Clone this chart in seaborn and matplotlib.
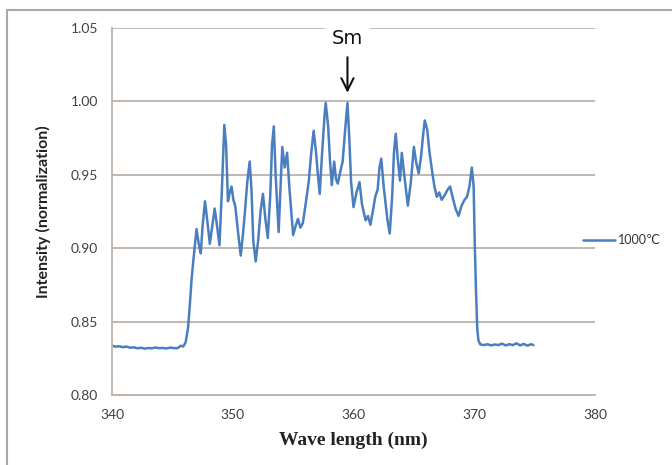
import matplotlib
matplotlib.use("Agg")
import matplotlib.pyplot as plt
import seaborn as sns
from matplotlib.lines import Line2D

# Spectrum values
wavelength_nm = [
    340.0, 340.3, 340.6, 340.9, 341.2, 341.5, 341.8, 342.1, 342.4, 342.7,
    343.0, 343.3, 343.6, 343.9, 344.2, 344.5, 344.8, 345.1, 345.4, 345.7,
    345.9, 346.1, 346.3, 346.45, 346.6, 346.8, 347.0, 347.2, 347.35, 347.5,
    347.7, 347.9, 348.1, 348.3, 348.5, 348.7, 348.9, 349.1, 349.3, 349.45,
    349.6, 349.75, 349.9, 350.05, 350.2, 350.45, 350.66, 350.85, 351.0, 351.2,
    351.4, 351.55, 351.7, 351.9, 352.1, 352.3, 352.5, 352.7, 352.9, 353.1,
    353.25, 353.4, 353.55, 353.8, 353.95, 354.1, 354.3, 354.5, 354.7, 355.0,
    355.2, 355.4, 355.6, 355.8, 356.0, 356.3, 356.5, 356.7, 356.9, 357.05,
    357.2, 357.4, 357.6, 357.7, 357.9, 358.05, 358.2, 358.4, 358.55, 358.7,
    358.9, 359.1, 359.3, 359.5, 359.65, 359.8, 360.0, 360.25, 360.5, 360.7,
    361.0, 361.2, 361.4, 361.6, 361.8, 362.0, 362.15, 362.3, 362.5, 362.8,
    363.0, 363.2, 363.35, 363.5, 363.65, 363.85, 364.0, 364.2, 364.5, 364.75,
    365.0, 365.2, 365.4, 365.6, 365.75, 365.9, 366.1, 366.3, 366.5, 366.7,
    366.9, 367.1, 367.3, 367.55, 367.8, 368.0, 368.2, 368.45, 368.7, 368.95,
    369.2, 369.4, 369.6, 369.8, 369.95, 370.05, 370.15, 370.25, 370.35, 370.5,
    370.8, 371.1, 371.4, 371.7, 372.0, 372.3, 372.6, 372.9, 373.2, 373.5,
    373.8, 374.1, 374.4, 374.7, 374.9,
]
intensity = [
    0.8335, 0.8330, 0.8332, 0.8326, 0.8330, 0.8322, 0.8325, 0.8318, 0.8322, 0.8316,
    0.8320, 0.8318, 0.8324, 0.8319, 0.8321, 0.8317, 0.8323, 0.8320, 0.8318, 0.8336,
    0.8330, 0.8360, 0.8460, 0.8620, 0.8800, 0.8970, 0.9130, 0.9020, 0.8965, 0.9150,
    0.9320, 0.9180, 0.9030, 0.9150, 0.9270, 0.9150, 0.9020, 0.9400, 0.9840, 0.9700,
    0.9320, 0.9380, 0.9420, 0.9330, 0.9290, 0.9100, 0.8950, 0.9100, 0.9240, 0.9450,
    0.9590, 0.9400, 0.9050, 0.8910, 0.9050, 0.9250, 0.9370, 0.9200, 0.9070, 0.9350,
    0.9700, 0.9830, 0.9500, 0.9110, 0.9400, 0.9690, 0.9550, 0.9650, 0.9400, 0.9090,
    0.9150, 0.9200, 0.9140, 0.9170, 0.9280, 0.9460, 0.9650, 0.9800, 0.9650, 0.9500,
    0.9370, 0.9650, 0.9900, 0.9990, 0.9830, 0.9600, 0.9430, 0.9590, 0.9470, 0.9440,
    0.9520, 0.9590, 0.9800, 0.9990, 0.9750, 0.9450, 0.9280, 0.9380, 0.9450, 0.9300,
    0.9190, 0.9220, 0.9160, 0.9250, 0.9350, 0.9400, 0.9550, 0.9610, 0.9420, 0.9200,
    0.9100, 0.9350, 0.9650, 0.9780, 0.9620, 0.9460, 0.9650, 0.9500, 0.9290, 0.9450,
    0.9690, 0.9580, 0.9510, 0.9630, 0.9760, 0.9870, 0.9810, 0.9650, 0.9530, 0.9420,
    0.9350, 0.9380, 0.9330, 0.9360, 0.9400, 0.9420, 0.9350, 0.9270, 0.9220, 0.9290,
    0.9330, 0.9350, 0.9420, 0.9550, 0.9420, 0.9000, 0.8700, 0.8450, 0.8370, 0.8345,
    0.8340, 0.8346, 0.8338, 0.8344, 0.8340, 0.8350, 0.8338, 0.8346, 0.8340, 0.8352,
    0.8338, 0.8348, 0.8336, 0.8346, 0.8340,
]

x_ticks = [340, 350, 360, 370, 380]
y_ticks = [0.80, 0.85, 0.90, 0.95, 1.00, 1.05]
series_label = "1000℃"
peak_label = "Sm"
peak_x = 359.5

sns.set_style("white")
plt.rcParams['font.family'] = ['Lato', 'DejaVu Sans']

line_color = '#4a7ebf'
grid_color = '#bcb2aa'
tick_color = '#404040'

fig = plt.figure(figsize=(6.72, 4.65), dpi=100)
ax = fig.add_axes([0.1667, 0.1505, 0.7187, 0.7893])

sns.lineplot(x=wavelength_nm, y=intensity, color=line_color, linewidth=1.8,
             ax=ax, legend=False)

ax.set_xlim(340, 380)
ax.set_ylim(0.80, 1.05)
ax.set_xticks(x_ticks)
ax.set_xticklabels([str(t) for t in x_ticks])
ax.set_yticks(y_ticks)
ax.set_yticklabels([f"{t:.2f}" for t in y_ticks])

ax.yaxis.grid(True, color=grid_color, linewidth=1.3)
ax.xaxis.grid(False)
ax.set_axisbelow(True)
for side in ['top', 'right']:
    ax.spines[side].set_visible(False)
for side in ['left', 'bottom']:
    ax.spines[side].set_color(grid_color)
    ax.spines[side].set_linewidth(1.3)
ax.tick_params(axis='both', direction='out', length=4, width=1.2,
               color=grid_color, labelsize=10, labelcolor=tick_color, pad=6)

ax.set_xlabel("Wave length (nm)", fontsize=14, fontweight='bold',
              family=['Liberation Serif', 'DejaVu Serif'], color='#222222', labelpad=8)
ax.set_ylabel("Intensity (normalization)", fontsize=11.5, fontweight='bold',
              color='#222222', labelpad=14)

# Peak annotation
ax.text(peak_x, 1.043, peak_label, ha='center', va='center', fontsize=14,
        family=['DejaVu Sans Condensed', 'Liberation Sans Narrow', 'DejaVu Sans'],
        color='#111111', bbox=dict(facecolor='white', edgecolor='none', pad=5),
        zorder=5, clip_on=False)
ax.annotate('', xy=(peak_x, 1.004), xytext=(peak_x, 1.032),
            arrowprops=dict(arrowstyle='->', color='#111111', lw=1.5, mutation_scale=22),
            zorder=6, annotation_clip=False)

# Legend to the right of the plot
handle = Line2D([0], [0], color=line_color, linewidth=1.8)
ax.legend([handle], [series_label], loc='center left', bbox_to_anchor=(0.975, 0.422),
          frameon=False, borderpad=0, borderaxespad=0, handlelength=2.6,
          handletextpad=0.2, fontsize=9, labelcolor='#333333')

# Chart-area border like the spreadsheet export
fig.add_artist(Line2D([0.0104, 0.0104], [0.0, 0.978], transform=fig.transFigure,
                      color='#a8a8a8', linewidth=1.5))
fig.add_artist(Line2D([0.0104, 1.0], [0.978, 0.978], transform=fig.transFigure,
                      color='#a8a8a8', linewidth=1.5))

fig.savefig("out.png", dpi=100)
